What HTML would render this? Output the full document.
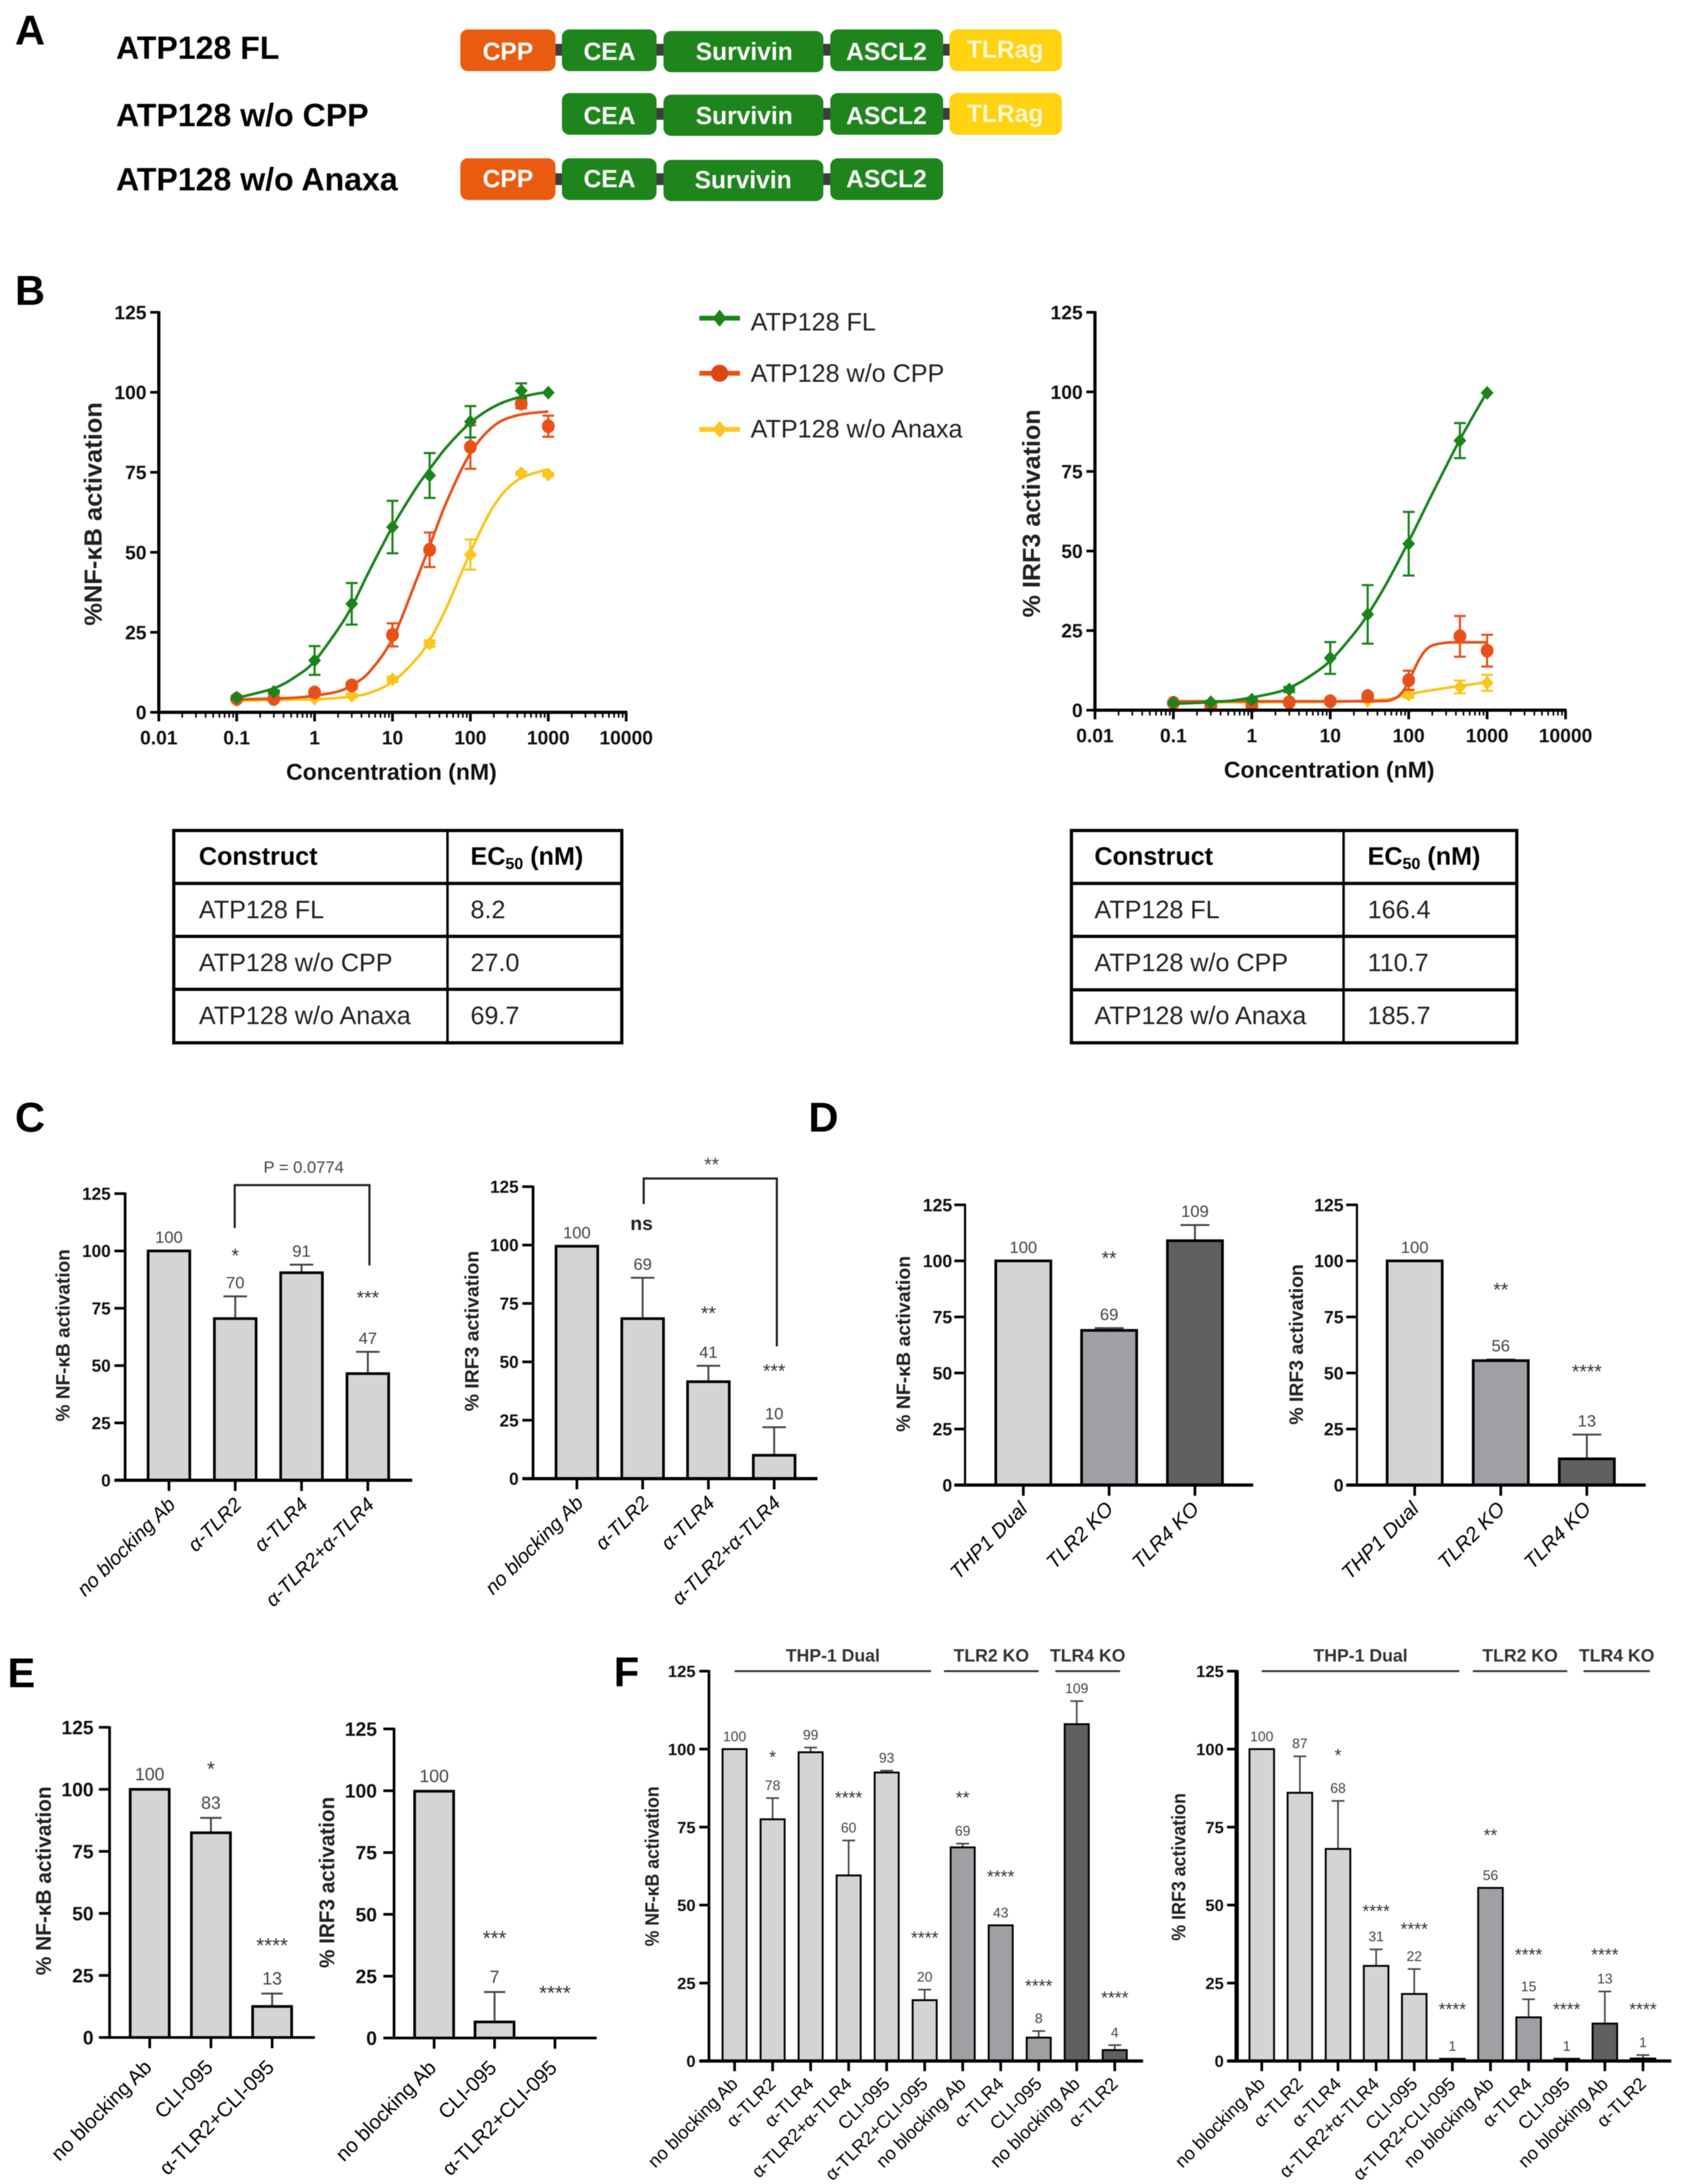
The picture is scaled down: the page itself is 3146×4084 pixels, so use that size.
<!DOCTYPE html>
<html lang="en">
<head>
<meta charset="utf-8">
<title>ATP128 constructs: NF-κB and IRF3 activation</title>
<style>
html,body{margin:0;padding:0;background:#fff;}
body{width:3146px;height:4084px;overflow:hidden;}
svg{display:block;filter:blur(0.7px);font-family:"Liberation Sans",Arial,sans-serif;}
.ptag{font-size:78px;font-weight:bold;fill:#000;}
.rowname{font-size:60px;font-weight:bold;fill:#000;}
.dom{font-size:46px;font-weight:bold;fill:#fff;text-anchor:middle;}
.tl{font-size:47px;fill:#222;}
.th{font-size:47px;font-weight:bold;fill:#000;}
.lg{font-size:47px;fill:#222;}
</style>
</head>
<body>
<svg id="fig" width="3146" height="4084" viewBox="0 0 3146 4084">
  <rect x="0" y="0" width="3146" height="4084" fill="#fff"/>

  <text class="ptag" x="28" y="83">A</text>
  <text class="ptag" x="28" y="570">B</text>
  <text class="ptag" x="28" y="2116">C</text>
  <text class="ptag" x="1512" y="2116">D</text>
  <text class="ptag" x="14" y="3155">E</text>
  <text class="ptag" x="1148" y="3153">F</text>

  <g>
    <text class="rowname" x="217" y="110">ATP128 FL</text>
    <text class="rowname" x="217" y="236">ATP128 w/o CPP</text>
    <text class="rowname" x="217" y="356">ATP128 w/o Anaxa</text>

    <g fill="#3c3c3c">
      <rect x="1037" y="82" width="16" height="22"/>
      <rect x="1226" y="82" width="17" height="22"/>
      <rect x="1538" y="82" width="17" height="22"/>
      <rect x="1762" y="82" width="16" height="22"/>
      <rect x="1226" y="202" width="17" height="22"/>
      <rect x="1538" y="202" width="17" height="22"/>
      <rect x="1762" y="202" width="16" height="22"/>
      <rect x="1037" y="324" width="16" height="22"/>
      <rect x="1226" y="324" width="17" height="22"/>
      <rect x="1538" y="324" width="17" height="22"/>
    </g>

    <rect x="861" y="55" width="178" height="78" rx="14" fill="#e95c0f"/>
    <text class="dom" x="950" y="112">CPP</text>
    <rect x="1051" y="55" width="177" height="78" rx="14" fill="#1e851c"/>
    <text class="dom" x="1140" y="112">CEA</text>
    <rect x="1241" y="58" width="299" height="77" rx="14" fill="#1e851c"/>
    <text class="dom" x="1392" y="112">Survivin</text>
    <rect x="1553" y="55" width="211" height="78" rx="14" fill="#1e851c"/>
    <text class="dom" x="1658" y="112">ASCL2</text>
    <rect x="1776" y="55" width="210" height="78" rx="14" fill="#ffd212"/>
    <text class="dom" x="1880" y="108" style="fill:#fff8d0">TLRag</text>

    <rect x="1051" y="174" width="177" height="78" rx="14" fill="#1e851c"/>
    <text class="dom" x="1140" y="232">CEA</text>
    <rect x="1241" y="177" width="299" height="77" rx="14" fill="#1e851c"/>
    <text class="dom" x="1392" y="232">Survivin</text>
    <rect x="1553" y="174" width="211" height="78" rx="14" fill="#1e851c"/>
    <text class="dom" x="1658" y="232">ASCL2</text>
    <rect x="1776" y="174" width="210" height="78" rx="14" fill="#ffd212"/>
    <text class="dom" x="1880" y="228" style="fill:#fff8d0">TLRag</text>

    <rect x="861" y="296" width="178" height="78" rx="14" fill="#e95c0f"/>
    <text class="dom" x="950" y="350">CPP</text>
    <rect x="1051" y="296" width="177" height="78" rx="14" fill="#1e851c"/>
    <text class="dom" x="1140" y="350">CEA</text>
    <rect x="1241" y="299" width="299" height="77" rx="14" fill="#1e851c"/>
    <text class="dom" x="1390" y="352">Survivin</text>
    <rect x="1553" y="296" width="211" height="78" rx="14" fill="#1e851c"/>
    <text class="dom" x="1658" y="350">ASCL2</text>
  </g>

  <g>
    <g>
      <line x1="1308" x2="1384" y1="595" y2="595" stroke="#1a841a" stroke-width="9"/>
      <polygon points="1346,579 1359,595 1346,611 1333,595" fill="#1a841a"/>
      <text class="lg" x="1404" y="618">ATP128 FL</text>
    </g>
    <g>
      <line x1="1308" x2="1384" y1="698" y2="698" stroke="#e8501a" stroke-width="9"/>
      <circle cx="1346" cy="698" r="16" fill="#e0440f"/>
      <text class="lg" x="1404" y="714">ATP128 w/o CPP</text>
    </g>
    <g>
      <line x1="1308" x2="1384" y1="803" y2="803" stroke="#ffc91a" stroke-width="9"/>
      <polygon points="1346,787 1359,803 1346,819 1333,803" fill="#fcc41c"/>
      <text class="lg" x="1404" y="818">ATP128 w/o Anaxa</text>
    </g>
  </g>

  <g stroke="#000" fill="none">
    <rect x="325" y="1553" width="838" height="397" stroke-width="6"/>
    <line x1="325" x2="1163" y1="1652" y2="1652" stroke-width="6"/>
    <line x1="325" x2="1163" y1="1751" y2="1751" stroke-width="6"/>
    <line x1="325" x2="1163" y1="1850" y2="1850" stroke-width="6"/>
    <line x1="837" x2="837" y1="1553" y2="1950" stroke-width="4.5"/>
    <g stroke="none">
      <text class="th" x="372" y="1617">Construct</text>
      <text class="th" x="880" y="1617">EC<tspan font-size="30" dy="8">50</tspan><tspan dy="-8"> (nM)</tspan></text>
      <text class="tl" x="372" y="1717">ATP128 FL</text>
      <text class="tl" x="880" y="1717">8.2</text>
      <text class="tl" x="372" y="1816">ATP128 w/o CPP</text>
      <text class="tl" x="880" y="1816">27.0</text>
      <text class="tl" x="372" y="1915">ATP128 w/o Anaxa</text>
      <text class="tl" x="880" y="1915">69.7</text>
    </g>
  </g>

  <g stroke="#000" fill="none">
    <rect x="2004" y="1553" width="833" height="397" stroke-width="6"/>
    <line x1="2004" x2="2837" y1="1652" y2="1652" stroke-width="6"/>
    <line x1="2004" x2="2837" y1="1751" y2="1751" stroke-width="6"/>
    <line x1="2004" x2="2837" y1="1851" y2="1851" stroke-width="6"/>
    <line x1="2513" x2="2513" y1="1553" y2="1950" stroke-width="4.5"/>
    <g stroke="none">
      <text class="th" x="2047" y="1617">Construct</text>
      <text class="th" x="2558" y="1617">EC<tspan font-size="30" dy="8">50</tspan><tspan dy="-8"> (nM)</tspan></text>
      <text class="tl" x="2047" y="1717">ATP128 FL</text>
      <text class="tl" x="2558" y="1717">166.4</text>
      <text class="tl" x="2047" y="1816">ATP128 w/o CPP</text>
      <text class="tl" x="2558" y="1816">110.7</text>
      <text class="tl" x="2047" y="1915">ATP128 w/o Anaxa</text>
      <text class="tl" x="2558" y="1915">185.7</text>
    </g>
  </g>
</svg>

<script>
/* ===== shared axis data ===== */
const yTickValues = [0, 25, 50, 75, 100, 125];
const xLogTickValues = [0.01, 0.1, 1, 10, 100, 1000, 10000];
const xLogTickLabels = ['0.01', '0.1', '1', '10', '100', '1000', '10000'];

/* ===== panel B: dose-response points ===== */
const concentrations = [0.1, 0.3, 1, 3, 10, 30, 100, 450, 1000];
const nfkbFL = [4.6, 6.4, 16.2, 33.9, 57.9, 74, 90.8, 100.5, 99.9];
const nfkbFLErr = [0.5, 0.5, 4.5, 6.5, 8.2, 7, 4.9, 2.3, 0];
const nfkbCPP = [4.2, 4.2, 6.2, 8.4, 24.2, 50.8, 82.9, 96.5, 89.4];
const nfkbCPPErr = [0.5, 0.5, 0.8, 1, 3.6, 5.4, 6.8, 1.5, 3.3];
const nfkbAnaxa = [3.7, 3.9, 4.3, 5.2, 10.3, 21.5, 49.3, 74.7, 74.3];
const nfkbAnaxaErr = [0.3, 0.3, 0.4, 0.5, 0.8, 1, 4.7, 0.5, 0.5];
const irf3FL = [2.3, 2.5, 3.3, 6.5, 16.4, 30.1, 52.3, 84.7, 99.7];
const irf3FLErr = [0.4, 0.4, 0.5, 0.8, 5, 9.2, 10, 5.5, 0];
const irf3CPP = [2.3, 1.4, 1.4, 2.5, 2.8, 4.4, 9.4, 23.2, 18.7];
const irf3CPPErr = [0.5, 0.4, 0.4, 0.5, 0.6, 0.8, 3, 6.4, 5];
const irf3Anaxa = [2, 2, 2, 2.5, 3, 3, 4.9, 7.3, 8.6];
const irf3AnaxaErr = [0.3, 0.3, 0.3, 0.3, 0.4, 0.5, 1, 2, 2.5];

/* ===== panel B: fitted curves ===== */
const nfkbFLCurveConc = [0.1, 0.3, 0.6, 1, 2, 3, 5, 10, 20, 30, 50, 100, 200, 400, 1000];
const nfkbFLCurve = [4.5, 7.5, 11.5, 16, 26, 33, 44, 58, 70, 76, 83, 90.5, 95.5, 98.3, 100.2];
const nfkbCPPCurveConc = [0.1, 0.3, 0.6, 1, 2, 3, 5, 10, 20, 30, 50, 100, 200, 400, 1000];
const nfkbCPPCurve = [4, 4.3, 4.6, 5.2, 6.5, 8.5, 12.5, 23, 41, 52, 66, 81, 89.5, 92.8, 94];
const nfkbAnaxaCurveConc = [0.1, 0.3, 0.6, 1, 2, 3, 5, 10, 20, 30, 50, 100, 200, 400, 1000];
const nfkbAnaxaCurve = [3.7, 3.8, 4, 4.1, 4.5, 5, 6, 9.5, 16.5, 22.5, 33, 50, 64.5, 72.5, 76];
const irf3FLCurveConc = [0.1, 0.3, 0.6, 1, 2, 3, 5, 10, 20, 30, 50, 100, 200, 450, 1000];
const irf3FLCurve = [2, 2.5, 3.1, 4, 5.5, 7, 10, 15.5, 24, 30, 39, 53, 68, 85, 100];
const irf3CPPCurveConc = [0.1, 1, 10, 40, 60, 80, 100, 130, 160, 200, 300, 450, 1000];
const irf3CPPCurve = [2.8, 2.8, 2.8, 2.85, 3.2, 5.2, 9, 15, 18.5, 20.3, 21.2, 21.3, 21.3];
const irf3AnaxaCurveConc = [0.1, 1, 10, 30, 60, 100, 200, 450, 1000];
const irf3AnaxaCurve = [2.5, 2.5, 2.6, 3, 3.6, 5, 6.3, 7.6, 8.8];

/* ===== panel C ===== */
const cCategories = ['no blocking Ab', 'α-TLR2', 'α-TLR4', 'α-TLR2+α-TLR4'];
const cLeftValues = [100, 70.5, 90.5, 46.5];
const cLeftErrors = [0, 9.7, 3.5, 9.5];
const cLeftPrinted = ['100', '70', '91', '47'];
const cLeftStars = ['', '*', '', '***'];
const cLeftStarLevels = [0, 100, 0, 81.6];
const cRightValues = [99.5, 68.5, 41.5, 10];
const cRightErrors = [0, 17.5, 6.8, 12];
const cRightPrinted = ['100', '69', '41', '10'];
const cRightStars = ['', '', '**', '***'];
const cRightStarLevels = [0, 0, 72.7, 48];
const cGroups = [0, 0, 0, 0];

/* ===== panel D ===== */
const dCategories = ['THP1 Dual', 'TLR2 KO', 'TLR4 KO'];
const dLeftValues = [100, 69, 109];
const dLeftErrors = [0, 1, 7];
const dLeftPrinted = ['100', '69', '109'];
const dLeftStars = ['', '**', ''];
const dLeftStarLevels = [0, 103.2, 0];
const dRightValues = [100, 55.5, 11.7];
const dRightErrors = [0, 0.5, 10.8];
const dRightPrinted = ['100', '56', '13'];
const dRightStars = ['', '**', '****'];
const dRightStarLevels = [0, 89.2, 52.7];
const dGroups = [0, 1, 2];

/* ===== panel E ===== */
const eCategories = ['no blocking Ab', 'CLI-095', 'α-TLR2+CLI-095'];
const eLeftValues = [100, 82.5, 12.5];
const eLeftErrors = [0, 6, 5.2];
const eLeftPrinted = ['100', '83', '13'];
const eLeftStars = ['', '*', '****'];
const eLeftStarLevels = [0, 110.2, 39.1];
const eRightValues = [99.8, 6.5, 0];
const eRightErrors = [0, 12.1, 0];
const eRightPrinted = ['100', '7', ''];
const eRightStars = ['', '***', '****'];
const eRightStarLevels = [0, 42.4, 20.2];
const eGroups = [0, 0, 0];

/* ===== panel F ===== */
const fCategories = ['no blocking Ab', 'α-TLR2', 'α-TLR4', 'α-TLR2+α-TLR4', 'CLI-095', 'α-TLR2+CLI-095', 'no blocking Ab', 'α-TLR4', 'CLI-095', 'no blocking Ab', 'α-TLR2'];
const fGroups = [0, 0, 0, 0, 0, 0, 1, 1, 1, 2, 2];
const fLeftValues = [100, 77.5, 99, 59.5, 92.5, 19.5, 68.5, 43.5, 7.5, 108, 3.5];
const fLeftErrors = [0, 6.8, 1.5, 11.2, 0.6, 3.4, 1.2, 0, 2.1, 7.4, 1.6];
const fLeftPrinted = ['100', '78', '99', '60', '93', '20', '69', '43', '8', '109', '4'];
const fLeftStars = ['', '*', '', '****', '', '****', '**', '****', '****', '', '****'];
const fLeftStarLevels = [0, 98.8, 0, 85.7, 0, 40.8, 85.7, 60.4, 25.4, 0, 21.6];
const fRightValues = [100, 86, 68, 30.5, 21.5, 0.7, 55.5, 14, 0.7, 12, 0.8];
const fRightErrors = [0, 11.7, 15.4, 5.3, 8, 0, 0, 5.8, 0, 10.3, 1.1];
const fRightPrinted = ['100', '87', '68', '31', '22', '1', '56', '15', '1', '13', '1'];
const fRightStars = ['', '', '*', '****', '****', '****', '**', '****', '****', '****', '****'];
const fRightStarLevels = [0, 0, 99.4, 49.4, 43.6, 17.9, 73.7, 35.4, 17.9, 35.4, 17.9];
const fCellLines = ['THP-1 Dual', 'TLR2 KO', 'TLR4 KO'];

/* ===== drawing helpers ===== */
const NS = 'http://www.w3.org/2000/svg';
const fig = document.getElementById('fig');
const barPalette = ['#d4d4d4', '#a0a0a4', '#606060'];

function mk(tag, attrs, parent) {
  const n = document.createElementNS(NS, tag);
  for (const k in attrs) n.setAttribute(k, attrs[k]);
  parent.appendChild(n);
  return n;
}
function line(parent, name, x1, y1, x2, y2, stroke, w) {
  const n = mk('line', { x1: x1, y1: y1, x2: x2, y2: y2, stroke: stroke, 'stroke-width': w }, parent);
  
  
  return n;
}
function label(parent, name, x, y, str, o) {
  const n = mk('text', {
    x: x, y: y,
    'font-size': o.fs,
    'text-anchor': o.anchor || 'middle',
    fill: o.fill || '#000'
  }, parent);
  if (o.bold) n.setAttribute('font-weight', 'bold');
  if (o.italic) n.setAttribute('font-style', 'italic');
  if (o.rotate !== undefined) n.setAttribute('transform', 'rotate(' + o.rotate + ' ' + x + ' ' + y + ')');
  if (o.len) {
    n.setAttribute('textLength', o.len);
    n.setAttribute('lengthAdjust', 'spacingAndGlyphs');
  }
  n.textContent = str;
  
  
  return n;
}
function yAxis(g, c, y) {
  line(g, 'y-axis-line', c.axisX, y(125) - 2, c.axisX, y(0), '#000', c.yAxisW);
  yTickValues.forEach(function (v) {
    line(g, 'y-axis-tick', c.axisX - c.tickLen, y(v), c.axisX, y(v), '#000', 5);
    label(g, 'y-tick-label', c.tickRight, y(v) + c.tickFs * 0.36, String(v), { fs: c.tickFs, bold: true, anchor: 'end', fill: '#111' });
  });
  label(g, 'y-axis-title', c.titleX, c.titleY, c.title, { fs: c.titleFs, bold: true, rotate: -90, len: c.titleLen, fill: '#222' });
}

/* ===== bar chart ===== */
function drawBarChart(c) {
  const g = mk('g', {}, fig);
  
  
  const y = function (v) { return c.y0 - (v / 125) * (c.y0 - c.y125); };
  const x = function (i) { return c.first + i * c.step; };

  c.values.forEach(function (v, i) {
    const top = v + c.errors[i];
    if (c.errors[i] > 0) {
      const s = line(g, 'error-bar', x(i), y(v), x(i), y(top), '#444', c.errW);
      s.setAttribute('stroke-linecap', 'butt');
      line(g, 'error-cap', x(i) - c.capW / 2, y(top), x(i) + c.capW / 2, y(top), '#444', c.errW);
    }
    if (v > 0) {
      const r = mk('rect', {
        x: x(i) - c.barW / 2, y: y(v), width: c.barW, height: y(0) - y(v),
        fill: barPalette[c.groups[i]], stroke: '#000', 'stroke-width': c.barStroke
      }, g);
      
      
    }
    if (c.printed[i]) {
      label(g, 'bar-value-label', x(i), y(top) - c.labelGap, c.printed[i], { fs: c.labelFs, fill: '#444' });
    }
    if (c.stars[i]) {
      label(g, 'significance-stars', x(i), y(c.starLevels[i]) + c.starFs * 0.575, c.stars[i], { fs: c.starFs, fill: '#333' });
    }
    line(g, 'x-axis-tick', x(i), y(0), x(i), y(0) + c.xTick, '#000', 5);
    label(g, 'x-tick-label', x(i) + c.catDx, y(0) + c.catDy, c.cats[i], { fs: c.catFs, italic: c.catItalic, anchor: 'end', rotate: -45, fill: '#000' });
  });

  line(g, 'x-axis-line', c.axisX - c.tickLen, y(0), c.axisEnd, y(0), '#000', c.xAxisW);
  yAxis(g, c, y);

  if (c.bracket) {
    const b = c.bracket;
    const p = mk('path', {
      d: 'M' + (x(b.from) + b.dxFrom) + ' ' + y(b.fromLevel) + ' V' + y(b.topLevel) + ' H' + (x(b.to) + b.dxTo) + ' V' + y(b.toLevel),
      fill: 'none', stroke: '#222', 'stroke-width': 4
    }, g);
    
    
    label(g, 'comparison-label', b.textX, b.textY, b.text, { fs: b.textFs, fill: '#444' });
  }
  if (c.extra) c.extra(g, x, y);
  if (c.groupLines) {
    c.groupLines.forEach(function (gl) {
      line(g, 'group-line', x(gl.from) + gl.dx1, c.y125, x(gl.to) + gl.dx2, c.y125, '#333', 3.5);
      const mid = (x(gl.from) + gl.dx1 + x(gl.to) + gl.dx2) / 2;
      label(g, 'group-label', mid + gl.tdx, c.y125 - 18, fCellLines[gl.name], { fs: 33, bold: true, fill: '#333' });
    });
  }
}

/* ===== dose-response chart ===== */
function smoothPath(pts) {
  let d = 'M' + pts[0][0] + ' ' + pts[0][1];
  for (let i = 0; i < pts.length - 1; i++) {
    const p0 = pts[Math.max(0, i - 1)], p1 = pts[i], p2 = pts[i + 1], p3 = pts[Math.min(pts.length - 1, i + 2)];
    const c1x = p1[0] + (p2[0] - p0[0]) / 6, c1y = p1[1] + (p2[1] - p0[1]) / 6;
    const c2x = p2[0] - (p3[0] - p1[0]) / 6, c2y = p2[1] - (p3[1] - p1[1]) / 6;
    d += ' C' + c1x + ' ' + c1y + ' ' + c2x + ' ' + c2y + ' ' + p2[0] + ' ' + p2[1];
  }
  return d;
}
function drawDoseChart(c) {
  const g = mk('g', {}, fig);
  
  
  const y = function (v) { return c.y0 - (v / 125) * (c.y0 - c.y125); };
  const x = function (v) { return c.axisX + (Math.log10(v) + 2) * c.decade; };

  c.series.forEach(function (s) {
    const sg = mk('g', {}, g);
    
    
    const pts = s.curveConc.map(function (cv, i) { return [x(cv), y(s.curve[i])]; });
    const p = mk('path', { d: smoothPath(pts), fill: 'none', stroke: s.color, 'stroke-width': 5 }, sg);
    
    
    concentrations.forEach(function (cv, i) {
      const v = s.values[i], e = s.errors[i], px = x(cv);
      if (e > 0) {
        line(sg, 'error-bar', px, y(v - e), px, y(v + e), s.color, 4);
        line(sg, 'error-cap', px - 11, y(v + e), px + 11, y(v + e), s.color, 4);
        line(sg, 'error-cap', px - 11, y(v - e), px + 11, y(v - e), s.color, 4);
      }
      let m;
      if (s.marker === 'circle') {
        m = mk('ellipse', { cx: px, cy: y(v), rx: 12, ry: 13, fill: s.color }, sg);
      } else {
        m = mk('polygon', { points: px + ',' + (y(v) - 13) + ' ' + (px + 12) + ',' + y(v) + ' ' + px + ',' + (y(v) + 13) + ' ' + (px - 12) + ',' + y(v), fill: s.color }, sg);
      }
      
      
    });
  });

  /* x axis with log ticks */
  line(g, 'x-axis-line', c.axisX, y(0), x(10000) + 2, y(0), '#000', 6);
  xLogTickValues.forEach(function (v, i) {
    line(g, 'x-axis-tick', x(v), y(0), x(v), y(0) + 17, '#000', 5);
    label(g, 'x-tick-label', x(v), y(0) + 60, xLogTickLabels[i], { fs: 36, bold: true, fill: '#111' });
    if (i < xLogTickValues.length - 1) {
      for (let k = 2; k <= 9; k++) {
        line(g, 'x-axis-minor-tick', x(v * k), y(0), x(v * k), y(0) + 10, '#000', 3);
      }
    }
  });
  label(g, 'x-axis-title', (c.axisX + x(10000)) / 2 - 2, y(0) + 126, 'Concentration (nM)', { fs: 43, bold: true, len: 394, fill: '#111' });
  yAxis(g, c, y);
}

const GREEN = '#1a841a', ORANGE = '#e8501a', YELLOW = '#fcc41c';

drawDoseChart({
  name: 'nfkb-dose-response-chart', axisX: 297, decade: 145.7, y0: 1332, y125: 584, yAxisW: 6, tickLen: 16,
  tickRight: 274, tickFs: 36, title: '%NF-κB activation', titleX: 190, titleY: 961, titleFs: 46, titleLen: 418,
  series: [
    { key: 'wo-anaxa', color: YELLOW, marker: 'diamond', values: nfkbAnaxa, errors: nfkbAnaxaErr, curve: nfkbAnaxaCurve, curveConc: nfkbAnaxaCurveConc },
    { key: 'wo-cpp', color: ORANGE, marker: 'circle', values: nfkbCPP, errors: nfkbCPPErr, curve: nfkbCPPCurve, curveConc: nfkbCPPCurveConc },
    { key: 'fl', color: GREEN, marker: 'diamond', values: nfkbFL, errors: nfkbFLErr, curve: nfkbFLCurve, curveConc: nfkbFLCurveConc }
  ]
});
drawDoseChart({
  name: 'irf3-dose-response-chart', axisX: 2048, decade: 146.7, y0: 1328, y125: 584, yAxisW: 6, tickLen: 16,
  tickRight: 2025, tickFs: 36, title: '% IRF3 activation', titleX: 1945, titleY: 960, titleFs: 46, titleLen: 389,
  series: [
    { key: 'wo-anaxa', color: YELLOW, marker: 'diamond', values: irf3Anaxa, errors: irf3AnaxaErr, curve: irf3AnaxaCurve, curveConc: irf3AnaxaCurveConc },
    { key: 'wo-cpp', color: ORANGE, marker: 'circle', values: irf3CPP, errors: irf3CPPErr, curve: irf3CPPCurve, curveConc: irf3CPPCurveConc },
    { key: 'fl', color: GREEN, marker: 'diamond', values: irf3FL, errors: irf3FLErr, curve: irf3FLCurve, curveConc: irf3FLCurveConc }
  ]
});

const cStyle = { barW: 78, barStroke: 5, errW: 3.5, capW: 44, xTick: 20, labelGap: 15, labelFs: 31, starFs: 36, catFs: 37, catItalic: true, catDx: 14, catDy: 48, tickLen: 20, tickFs: 32, titleFs: 36, yAxisW: 5, xAxisW: 6 };
drawBarChart(Object.assign({}, cStyle, {
  name: 'panel-c-nfkb-chart', cats: cCategories, values: cLeftValues, errors: cLeftErrors, printed: cLeftPrinted, stars: cLeftStars, starLevels: cLeftStarLevels, groups: cGroups,
  axisX: 234, axisEnd: 771, y0: 2768, y125: 2232, first: 316, step: 124,
  tickRight: 207, title: '% NF-κB activation', titleX: 130, titleY: 2497, titleLen: 322,
  bracket: { from: 1, to: 3, dxFrom: -1, dxTo: 3, fromLevel: 110, topLevel: 128.7, toLevel: 93.7, text: 'P = 0.0774', textX: 568, textY: 2193, textFs: 31 }
}));
drawBarChart(Object.assign({}, cStyle, {
  name: 'panel-c-irf3-chart', cats: cCategories, values: cRightValues, errors: cRightErrors, printed: cRightPrinted, stars: cRightStars, starLevels: cRightStarLevels, groups: cGroups,
  axisX: 997, axisEnd: 1529, y0: 2765, y125: 2219, first: 1079, step: 123,
  tickRight: 970, title: '% IRF3 activation', titleX: 895, titleY: 2489, titleLen: 300,
  bracket: { from: 1, to: 3, dxFrom: 2, dxTo: 5, fromLevel: 117.6, topLevel: 128.5, toLevel: 56.6, text: '**', textX: 1331, textY: 2190, textFs: 36 },
  extra: function (g) { label(g, 'significance-ns', 1200, 2300, 'ns', { fs: 36, bold: true, fill: '#222' }); }
}));

const dStyle = { barW: 103, barStroke: 5, errW: 3.5, capW: 54, xTick: 20, labelGap: 15, labelFs: 31, starFs: 36, catFs: 38, catItalic: true, catDx: 10, catDy: 47, tickLen: 20, tickFs: 33, titleFs: 36, yAxisW: 4, xAxisW: 6 };
drawBarChart(Object.assign({}, dStyle, {
  name: 'panel-d-nfkb-chart', cats: dCategories, values: dLeftValues, errors: dLeftErrors, printed: dLeftPrinted, stars: dLeftStars, starLevels: dLeftStarLevels, groups: dGroups,
  axisX: 1805, axisEnd: 2344, y0: 2777, y125: 2253, first: 1914, step: 160.5,
  tickRight: 1781, title: '% NF-κB activation', titleX: 1702, titleY: 2513, titleLen: 329
}));
drawBarChart(Object.assign({}, dStyle, {
  name: 'panel-d-irf3-chart', cats: dCategories, values: dRightValues, errors: dRightErrors, printed: dRightPrinted, stars: dRightStars, starLevels: dRightStarLevels, groups: dGroups,
  axisX: 2538, axisEnd: 3078, y0: 2777, y125: 2253, first: 2646, step: 161,
  tickRight: 2513, title: '% IRF3 activation', titleX: 2437, titleY: 2514, titleLen: 300
}));

const eStyle = { barW: 73, barStroke: 5, errW: 3.5, capW: 40, xTick: 20, labelGap: 17, labelFs: 33, starFs: 38, catFs: 38, catItalic: false, catDx: 6, catDy: 58, tickLen: 20, tickFs: 36, titleFs: 40, yAxisW: 5, xAxisW: 5 };
drawBarChart(Object.assign({}, eStyle, {
  name: 'panel-e-nfkb-chart', cats: eCategories, values: eLeftValues, errors: eLeftErrors, printed: eLeftPrinted, stars: eLeftStars, starLevels: eLeftStarLevels, groups: eGroups,
  axisX: 205, axisEnd: 589, y0: 3810, y125: 3230, first: 280, step: 114.5,
  tickRight: 175, title: '% NF-κB activation', titleX: 95, titleY: 3517, titleLen: 353
}));
drawBarChart(Object.assign({}, eStyle, {
  name: 'panel-e-irf3-chart', cats: eCategories, values: eRightValues, errors: eRightErrors, printed: eRightPrinted, stars: eRightStars, starLevels: eRightStarLevels, groups: eGroups,
  axisX: 737, axisEnd: 1116, y0: 3811, y125: 3233, first: 812, step: 113,
  tickRight: 705, title: '% IRF3 activation', titleX: 625, titleY: 3520, titleLen: 320
}));

const fStyle = { barW: 45, barStroke: 3.5, errW: 3, capW: 24, xTick: 19, labelGap: 15, labelFs: 26, starFs: 33, catFs: 34, catItalic: false, catDx: 8, catDy: 45, tickLen: 18, tickFs: 31, titleFs: 36, xAxisW: 6 };
drawBarChart(Object.assign({}, fStyle, {
  name: 'panel-f-nfkb-chart', cats: fCategories, values: fLeftValues, errors: fLeftErrors, printed: fLeftPrinted, stars: fLeftStars, starLevels: fLeftStarLevels, groups: fGroups,
  axisX: 1326, axisEnd: 2138, y0: 3854, y125: 3125, first: 1374, step: 71.1, yAxisW: 5,
  tickRight: 1301, title: '% NF-κB activation', titleX: 1232, titleY: 3490, titleLen: 299,
  groupLines: [
    { name: 0, from: 0, to: 5, dx1: 0, dx2: 12, tdx: 0 },
    { name: 1, from: 6, to: 8, dx1: -35, dx2: 0, tdx: 0 },
    { name: 2, from: 9, to: 10, dx1: -40, dx2: 10, tdx: 0 }
  ]
}));
drawBarChart(Object.assign({}, fStyle, {
  name: 'panel-f-irf3-chart', cats: fCategories, values: fRightValues, errors: fRightErrors, printed: fRightPrinted, stars: fRightStars, starLevels: fRightStarLevels, groups: fGroups,
  axisX: 2313, axisEnd: 3126, y0: 3854, y125: 3125, first: 2360, step: 71.3, yAxisW: 8, barW: 46,
  tickRight: 2289, title: '% IRF3 activation', titleX: 2217, titleY: 3491, titleLen: 276,
  groupLines: [
    { name: 0, from: 0, to: 5, dx1: 0, dx2: 13, tdx: 0 },
    { name: 1, from: 6, to: 8, dx1: -33, dx2: 1, tdx: 0 },
    { name: 2, from: 9, to: 10, dx1: -40, dx2: 13, tdx: 0 }
  ]
}));
</script>
</body>
</html>
